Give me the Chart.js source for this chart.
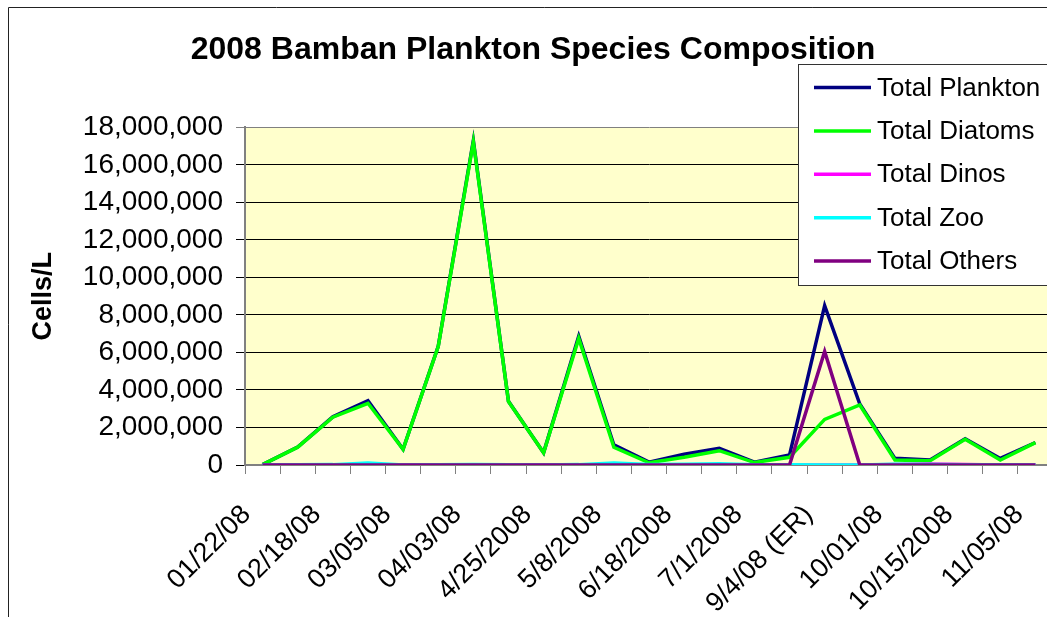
<!DOCTYPE html>
<html><head><meta charset="utf-8">
<script src="https://cdn.jsdelivr.net/npm/chart.js@4.4.0/dist/chart.umd.min.js"></script>
<style>
html,body{margin:0;padding:0;background:#fff;overflow:hidden;width:1047px;height:617px}
#wrap{position:absolute;left:0;top:0;width:1080px;height:640px}
canvas{display:block}
</style></head><body>
<div id="wrap"><canvas id="c" width="1080" height="640" style="width:1080px;height:640px"></canvas></div>
<script>
// Categories (only every other label is legible in the reference; the rest are left blank)
const categories = ['01/22/08','','02/18/08','','03/05/08','','04/03/08','','4/25/2008','','5/8/2008','',
  '6/18/2008','','7/1/2008','','9/4/08 (ER)','','10/01/08','','10/15/2008','','11/05/08'];
const seriesNames = ['Total Plankton','Total Diatoms','Total Dinos','Total Zoo','Total Others'];
const seriesColors = ['#000080','#00FF00','#FF00FF','#00FFFF','#800080'];
const totalPlankton = [20000,960000,2570000,3430000,840000,6330000,17300000,3400000,660000,6870000,1070000,150000,
  570000,890000,150000,530000,8500000,3250000,355000,270000,1400000,350000,1200000];
const totalDiatoms = [20000,950000,2550000,3290000,835000,6310000,17230000,3380000,657000,6750000,943000,120000,
  410000,763000,130000,410000,2430000,3200000,267000,230000,1370000,267000,1190000];
const totalDinos = [0,0,0,0,0,0,0,0,0,0,0,0,0,0,0,0,0,0,20000,50000,30000,0,0];
const totalZoo = [0,10000,20000,100000,5000,10000,20000,10000,5000,20000,100000,30000,
  40000,60000,20000,10000,0,0,40000,20000,10000,10000,5000];
const totalOthers = [0,0,0,0,0,0,0,0,0,0,0,0,0,0,0,0,6050000,0,0,0,0,0,0];
const yTicks = [0,2000000,4000000,6000000,8000000,10000000,12000000,14000000,16000000,18000000];

const FONT = "'Liberation Sans', Arial, sans-serif";
const allSeries = [totalPlankton,totalDiatoms,totalDinos,totalZoo,totalOthers];

const bgPlugin = {
  id:'bg',
  beforeDraw(chart){
    const {ctx, chartArea:a} = chart;
    ctx.save();
    ctx.fillStyle = '#FFFFCC';
    ctx.fillRect(a.left, a.top, a.right-a.left, a.bottom-a.top);
    ctx.strokeStyle = '#222';
    ctx.lineWidth = 1;
    ctx.beginPath();
    ctx.moveTo(8.5, 700); ctx.lineTo(8.5, 7.5); ctx.lineTo(1200, 7.5);
    ctx.stroke();
    ctx.restore();
  }
};
const legendPlugin = {
  id:'customLegend',
  afterDraw(chart){
    const {ctx} = chart;
    ctx.save();
    ctx.fillStyle = '#fff';
    ctx.fillRect(798, 64, 400, 221);
    ctx.strokeStyle = '#333';
    ctx.lineWidth = 1;
    ctx.strokeRect(798.5, 64.5, 400, 221);
    chart.data.datasets.forEach((ds, i) => {
      const y = 87.5 + i*43.4;
      ctx.strokeStyle = ds.borderColor;
      ctx.lineWidth = 3.5;
      ctx.beginPath(); ctx.moveTo(814, y); ctx.lineTo(871, y); ctx.stroke();
      ctx.fillStyle = '#000';
      ctx.font = '26px ' + FONT;
      ctx.textBaseline = 'middle';
      ctx.textAlign = 'left';
      ctx.fillText(ds.label, 877, y + 1);
    });
    ctx.restore();
  }
};

new Chart(document.getElementById('c'), {
  type:'line',
  data:{
    labels: categories,
    datasets: allSeries.map((d,i)=>({
      label: seriesNames[i], data: d, borderColor: seriesColors[i], backgroundColor: seriesColors[i],
      borderWidth: 3.5, pointRadius: 0, tension: 0, fill: false, order: 5-i
    }))
  },
  options:{
    responsive:false, animation:false, devicePixelRatio:1,
    layout:{padding:{left:13,right:27,top:0,bottom:0}},
    plugins:{
      legend:{display:false}, tooltip:{enabled:false},
      title:{display:true, text:'2008 Bamban Plankton Species Composition', color:'#000',
        font:{family:FONT, size:32, weight:'bold', lineHeight:1.2}, padding:{top:31,bottom:58}}
    },
    scales:{
      x:{
        offset:true,
        grid:{offset:true, drawOnChartArea:false, drawTicks:true, tickLength:9, color:'#808080'},
        border:{display:true, color:'#808080', width:2},
        ticks:{autoSkip:false, maxRotation:45, minRotation:45, color:'#000', padding:25, labelOffset:-16,
          font:{family:FONT, size:27}},
        afterFit(s){ s.height = 175; s.paddingLeft = 0; s.paddingRight = 0; }
      },
      y:{
        min:0, max:18000000,
        afterBuildTicks(s){ s.ticks = yTicks.map(v=>({value:v})); },
        grid:{color:(c)=> (c.tick && c.tick.value===18000000) ? '#808080' : '#000', tickLength:9, drawTicks:true},
        border:{display:true, color:'#808080', width:2},
        ticks:{color:'#000', padding:13, font:{family:FONT, size:28},
          callback:(v)=> Number(v).toLocaleString('en-US')},
        title:{display:true, text:'Cells/L', color:'#000', font:{family:FONT, size:27, weight:'bold', lineHeight:1.2},
          padding:{top:14,bottom:0}},
        afterFit(s){ s.width = 232; }
      }
    }
  },
  plugins:[bgPlugin, legendPlugin]
});
</script>
</body></html>
